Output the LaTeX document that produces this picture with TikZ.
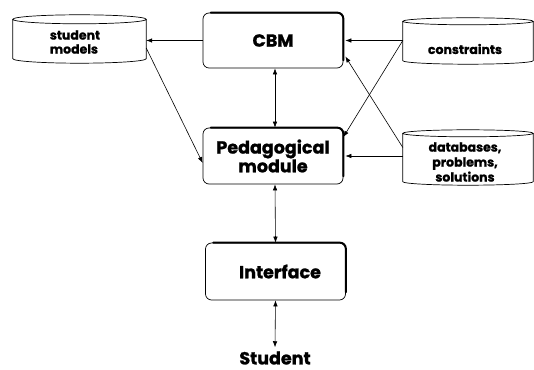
\documentclass[tikz,border=0pt]{standalone}
\usepackage{fontspec}
\setmainfont{Poppins}[BoldFeatures={FakeBold=1.2}]
\usetikzlibrary{arrows.meta,calc}
\tikzset{
  box/.style={draw, line width=0.7pt, rounded corners=6pt, minimum width=140pt,
    minimum height=55pt, inner sep=0pt, align=center,
    font=\bfseries\fontsize{17.5}{17}\selectfont},
  cylbody/.style={minimum width=130pt, minimum height=46pt, inner sep=0pt},
  cyltext/.style={inner sep=0pt, align=center, font=\bfseries\fontsize{12.5}{14}\selectfont},
  cyl/.style={line width=0.7pt},
  conn/.style={line width=0.6pt, -{Latex[length=6pt,width=4.5pt]}},
  dconn/.style={line width=0.6pt, {Latex[length=6pt,width=4.5pt]}-{Latex[length=6pt,width=4.5pt]}},
  shade/.style={line width=2pt, line cap=round},
}
\newcommand{\drawcyl}[2]{%
  \draw[cyl] let \p1=(#1.north west), \p2=(#1.south east) in
    (\x1,\y1-#2) -- (\x1,\y2+#2)
    arc[start angle=180, end angle=360, x radius={(\x2-\x1)/2}, y radius=#2]
    -- (\x2,\y1-#2)
    ({(\x1+\x2)/2},\y1-#2) ellipse [x radius={(\x2-\x1)/2}, y radius=#2];
}
\newcommand{\shadebox}[1]{%
  \draw[shade] let \p1=(#1.north west), \p2=(#1.south east) in
    (\x1+8pt,\y1) -- (\x2-6pt,\y1) arc[start angle=90, end angle=0, radius=6pt]
    -- (\x2,\y2+8pt);
}
\begin{document}
\begin{tikzpicture}[x=1pt,y=1pt]
\useasboundingbox (0,0) rectangle (534,369);
% boxes
\node[box] (cbm) at (273,328.5) {CBM};
\node[box, minimum height=56pt] (ped) at (273,213) {Pedagogical\\module};
\node[box, minimum height=57pt] (int) at (275.5,97.5) {\hspace*{9pt}Interface};
\node[font=\bfseries\fontsize{17.5}{17}\selectfont, inner sep=0pt] (stu) at (275,11) {Student};
\shadebox{cbm}
\shadebox{ped}
\shadebox{int}
% cylinders
\node[cylbody, minimum width=133pt, minimum height=48pt] (sm) at (79.5,330) {};
\node[cyltext, align=left] (smt) at (75,327) {student\\models};
\node[cylbody] (cons) at (468,328) {};
\node[cyltext] (const) at (465,320) {constraints};
\node[cylbody, minimum height=55pt] (db) at (468,211.5) {};
\node[cyltext, font=\bfseries\fontsize{12.5}{15}\selectfont] (dbt) at (465,207) {databases,\\problems,\\solutions};
\drawcyl{sm}{4.5pt}
\drawcyl{cons}{3.5pt}
\drawcyl{db}{3.5pt}
% connectors
\draw[conn] (cbm.west) -- (cbm.west -| sm.east);
\draw[conn] ([yshift=-9pt]sm.east) -- ([yshift=-7pt]ped.west);
\draw[conn] (cons.west |- cbm.east) -- ([xshift=2pt]cbm.east);
\draw[conn] (cons.west |- cbm.east) -- ([yshift=19pt]ped.east);
\draw[conn] ([yshift=10pt]db.west) -- ([xshift=2pt,yshift=-16pt]cbm.east);
\draw[conn] (db.west |- ped.east) -- ([xshift=2pt]ped.east);
\draw[dconn] ([xshift=2pt]cbm.south) -- ([xshift=2pt]ped.north);
\draw[dconn] ([xshift=2pt]ped.south) -- (int.north);
\draw[dconn] (int.south) -- ([yshift=4pt]stu.north);
\end{tikzpicture}
\end{document}
